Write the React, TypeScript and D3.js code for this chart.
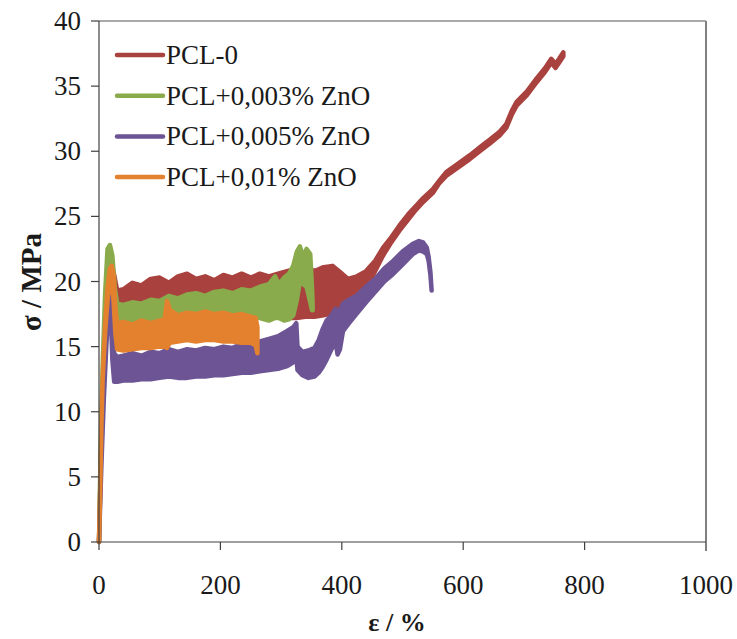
import React from 'react';
import * as d3 from 'd3';

// ---- data (strain %, lower stress MPa, upper stress MPa) ----
const strainTicks = [0, 200, 400, 600, 800, 1000];
const stressTicks = [0, 5, 10, 15, 20, 25, 30, 35, 40];
const seriesNames = ['PCL-0', 'PCL+0,003% ZnO', 'PCL+0,005% ZnO', 'PCL+0,01% ZnO'];

const pcl0: [number, number, number][] = [
  [0, 0, 0], [5, 10, 10], [10, 16, 16.5], [15, 19.5, 20.5], [20, 20.5, 21.5], [25, 19, 20.5],
  [30, 18.3, 19.3], [40, 18.2, 19.4], [55, 18.4, 19.9], [70, 18.3, 19.7], [85, 18.5, 20.2],
  [100, 18.5, 20.3], [115, 18.6, 19.9], [130, 18.7, 20.4], [145, 18.8, 20.6], [160, 18.7, 20.2],
  [175, 18.8, 20.4], [190, 18.7, 20.1], [205, 18.8, 20.5], [220, 18.7, 20.3], [235, 18.6, 20.6],
  [250, 18.5, 20.3], [265, 18.4, 20.6], [280, 18.0, 20.4], [295, 17.4, 20.6], [310, 17.2, 20.8],
  [325, 17.2, 21.0], [340, 17.3, 21.1], [355, 17.3, 20.8], [370, 17.4, 21.1], [385, 17.6, 21.2],
  [398, 17.8, 20.7], [410, 18.0, 20.2], [425, 18.6, 20.4], [440, 19.4, 20.8], [455, 20.8, 21.6],
  [468, 22.0, 22.6], [480, 22.9, 23.3], [495, 23.9, 24.3], [510, 24.8, 25.2], [522, 25.5, 25.8],
  [534, 26.1, 26.4], [550, 26.8, 27.1], [560, 27.5, 27.7], [572, 28.1, 28.4], [590, 28.7, 29.0],
  [611, 29.4, 29.7], [630, 30.1, 30.4], [644, 30.6, 30.9], [660, 31.2, 31.5], [671, 31.8, 32.1],
  [680, 32.8, 33.1], [688, 33.5, 33.8], [705, 34.3, 34.6], [721, 35.3, 35.6], [735, 36.1, 36.4],
  [745, 36.8, 37.1], [752, 36.4, 36.7], [758, 36.8, 37.1], [765, 37.3, 37.6],
];

const pcl003: [number, number, number][] = [
  [0, 0, 0], [3, 8, 8], [6, 13, 13.5], [10, 18, 19], [14, 21.5, 22.5], [18, 22.3, 22.8],
  [22, 20.5, 22], [26, 18, 19.5], [30, 17.2, 18.3], [40, 16.9, 18.2], [55, 17.0, 18.4],
  [70, 17.1, 18.3], [85, 17.1, 18.6], [100, 17.3, 18.5], [115, 17.4, 18.9], [130, 17.4, 18.7],
  [145, 17.5, 19.0], [160, 17.6, 19.1], [175, 17.6, 18.9], [190, 17.6, 19.2], [205, 17.5, 19.3],
  [220, 17.4, 19.1], [235, 17.3, 19.4], [250, 17.3, 19.3], [265, 17.2, 19.6], [280, 17.0, 19.8],
  [290, 17.2, 20.4], [296, 17.2, 19.8], [305, 17.0, 20.3], [313, 17.1, 20.6], [320, 17.4, 21.2],
  [326, 18.6, 22.3], [331, 20.0, 22.7], [336, 19.8, 21.9], [342, 19.6, 22.5], [348, 18.4, 22.1],
  [351, 17.8, 19.5], [352, 17.8, 18.1],
];

const pcl005: [number, number, number][] = [
  [0, 0, 0], [4, 6, 6], [8, 11, 11.5], [12, 15, 16], [16, 18.3, 19.2], [19, 18.0, 18.8],
  [22, 14, 16], [25, 12.3, 14.5], [30, 12.3, 14.2], [40, 12.4, 14.3], [55, 12.4, 14.5],
  [70, 12.5, 14.3], [85, 12.5, 14.6], [100, 12.6, 14.5], [115, 12.7, 14.8], [130, 12.6, 14.6],
  [145, 12.6, 14.8], [160, 12.7, 14.7], [175, 12.7, 14.9], [190, 12.8, 14.8], [205, 12.8, 15.0],
  [220, 12.9, 14.9], [235, 13.0, 15.2], [250, 13.0, 15.1], [265, 13.1, 15.4], [280, 13.2, 15.6],
  [295, 13.3, 15.8], [310, 13.5, 16.2], [320, 13.8, 16.5], [325, 14.3, 16.8], [327, 13.2, 15.0],
  [335, 12.8, 14.6], [345, 12.6, 14.7], [355, 12.7, 14.9], [362, 13.0, 15.5], [368, 13.4, 16.3],
  [375, 14.0, 17.0], [383, 14.8, 17.4], [390, 15.3, 17.9], [393, 14.4, 17.5], [397, 14.8, 17.8],
  [402, 16.2, 18.3], [412, 16.8, 18.6], [424, 17.5, 18.9], [440, 18.4, 19.6], [457, 19.3, 20.3],
  [470, 20.0, 21.0], [485, 20.6, 21.6], [500, 21.3, 22.3], [517, 22.1, 22.9], [527, 22.4, 23.1],
  [534, 22.3, 23.0], [540, 22.1, 22.6], [543, 21.6, 21.9], [546, 20.5, 20.7], [548, 19.3, 19.3],
];

const pcl01: [number, number, number][] = [
  [0, 0, 0], [2, 4, 4], [4, 9, 9], [6, 12.5, 12.5], [10, 16, 16.5], [14, 18.5, 19.5],
  [18, 20, 21], [21, 20.5, 21.2], [24, 18.5, 20.5], [27, 16, 18], [30, 14.8, 16.8],
  [40, 14.7, 16.9], [55, 14.8, 16.7], [70, 14.9, 17.0], [85, 14.9, 16.8], [100, 15.0, 17.0],
  [108, 15.0, 17.1], [112, 14.9, 18.5], [117, 15.3, 17.8], [130, 15.4, 17.4], [145, 15.5, 17.6],
  [160, 15.4, 17.5], [175, 15.5, 17.7], [190, 15.5, 17.5], [205, 15.4, 17.6], [220, 15.4, 17.4],
  [235, 15.3, 17.5], [250, 15.3, 17.3], [258, 15.1, 17.2], [261, 14.5, 16.5],
];

const seriesData = [pcl0, pcl003, pcl005, pcl01];
const seriesColors = ['#A9423F', '#8AAB4C', '#6D5494', '#E3812F'];

const W = 737;
const H = 639;

export default function App() {
  const x = d3.scaleLinear().domain([0, 1000]).range([99, 706]);
  const y = d3.scaleLinear().domain([0, 40]).range([542, 21]);
  const area = d3
    .area<[number, number, number]>()
    .x((d) => x(d[0]))
    .y0((d) => y(d[1]))
    .y1((d) => y(d[2]));

  const font = '"Liberation Serif", "Times New Roman", serif';
  const axisColor = '#404040';

  return (
    <div style={{ position: 'absolute', left: 0, top: 0 }}>
      <svg width={W} height={H} viewBox={`0 0 ${W} ${H}`} style={{ display: 'block', background: '#fff' }}>
        {/* frame */}
        <line x1={x(0)} x2={x(1000)} y1={y(40)} y2={y(40)} stroke="#555" strokeWidth={1.2} />
        <line x1={x(1000)} x2={x(1000)} y1={y(40)} y2={y(0) + 9} stroke="#808080" strokeWidth={2} />

        {/* series */}
        {seriesData.map((s, i) => (
          <path
            key={i}
            d={area(s) || ''}
            fill={seriesColors[i]}
            stroke={seriesColors[i]}
            strokeWidth={4.5}
            strokeLinejoin="round"
            strokeLinecap="round"
          />
        ))}

        {/* y axis */}
        <line x1={x(0)} x2={x(0)} y1={y(40)} y2={y(0)} stroke={axisColor} strokeWidth={1.2} />
        {stressTicks.map((t) => (
          <g key={t}>
            <line x1={x(0) - 8} x2={x(0)} y1={y(t)} y2={y(t)} stroke={axisColor} strokeWidth={1.2} />
            <text x={81} y={y(t) + 9} textAnchor="end" fontFamily={font} fontSize={27} fill="#1a1a1a">
              {t}
            </text>
          </g>
        ))}

        {/* x axis */}
        <line x1={x(0)} x2={x(1000)} y1={y(0)} y2={y(0)} stroke={axisColor} strokeWidth={1.2} />
        {strainTicks.map((t) => (
          <g key={t}>
            {t < 1000 && (
              <line x1={x(t)} x2={x(t)} y1={y(0)} y2={y(0) + 8} stroke={axisColor} strokeWidth={1.2} />
            )}
            <text x={x(t)} y={594} textAnchor="middle" fontFamily={font} fontSize={27} fill="#1a1a1a">
              {t}
            </text>
          </g>
        ))}

        {/* axis titles */}
        <text x={397} y={631} textAnchor="middle" fontFamily={font} fontSize={26} fontWeight="bold" fill="#1a1a1a">
          ε / %
        </text>
        <text
          transform={`translate(41, 282) rotate(-90)`}
          textAnchor="middle"
          fontFamily={font}
          fontSize={29}
          fontWeight="bold"
          fill="#1a1a1a"
        >
          σ / MPa
        </text>

        {/* legend */}
        {seriesNames.map((n, i) => {
          const ly = 55 + i * 40.7;
          return (
            <g key={n}>
              <line x1={117} x2={163} y1={ly} y2={ly} stroke={seriesColors[i]} strokeWidth={4.5} strokeLinecap="round" />
              <text x={166} y={ly + 9} fontFamily={font} fontSize={27} fill="#1a1a1a">
                {n}
              </text>
            </g>
          );
        })}
      </svg>
    </div>
  );
}
